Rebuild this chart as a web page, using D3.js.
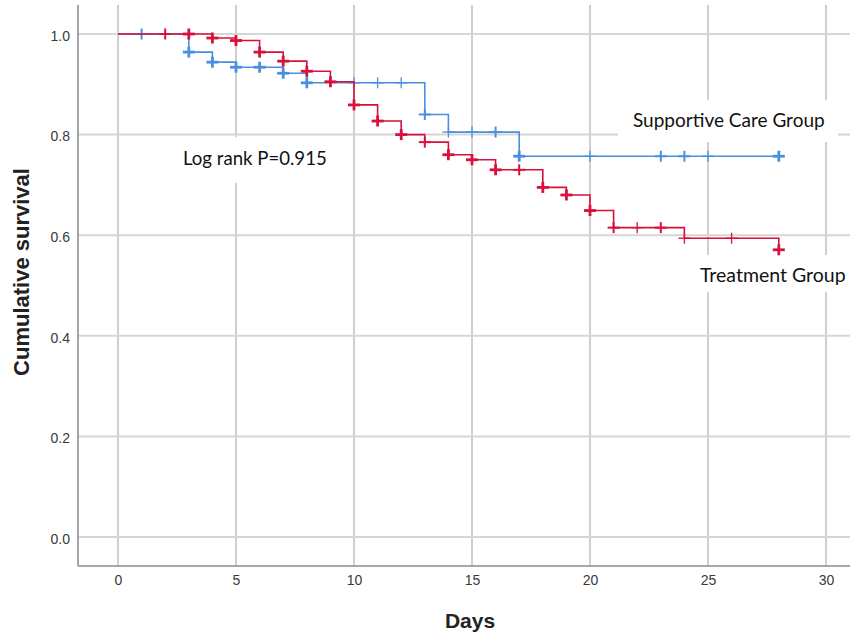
<!DOCTYPE html>
<html>
<head>
<meta charset="utf-8">
<script src="https://cdn.jsdelivr.net/npm/d3@7"></script>
<style>
  body { margin: 0; background: #fff; }
  svg { display: block; }
</style>
</head>
<body>
<div id="chart"></div>
<script>
// Kaplan-Meier steps (day of drop, survival after drop)
var careTimes = [0, 3, 4, 5, 7, 8, 13, 14, 17];
var careSurv = [1.0, 0.964, 0.944, 0.934, 0.922, 0.903, 0.840, 0.805, 0.757];
var careCensorDays = [1, 3, 4, 5, 6, 7, 8, 10, 11, 12, 13, 14, 15, 16, 17, 20, 23, 24, 25, 28];
var careCensorN = [2, 3, 3, 3, 3, 3, 3, 1, 1, 1, 2, 1, 1, 2, 3, 1, 2, 2, 1, 3];

var treatTimes = [0, 4, 5, 6, 7, 8, 9, 10, 11, 12, 13, 14, 15, 16, 18, 19, 20, 21, 24, 28];
var treatSurv = [1.0, 0.992, 0.987, 0.964, 0.946, 0.926, 0.905, 0.859, 0.827, 0.800, 0.785, 0.760,
  0.750, 0.730, 0.695, 0.680, 0.649, 0.615, 0.594, 0.571];
var treatCensorDays = [2, 3, 4, 5, 6, 7, 8, 9, 10, 11, 12, 13, 14, 15, 16, 17, 18, 19, 20, 21, 22, 23, 24, 26, 28];
var treatCensorN = [2, 3, 3, 3, 3, 3, 3, 3, 3, 3, 3, 2, 3, 3, 3, 2, 3, 3, 3, 2, 1, 2, 1, 1, 3];

var lastDay = 28;
var xTicks = [0, 5, 10, 15, 20, 25, 30];
var yTicks = [0.0, 0.2, 0.4, 0.6, 0.8, 1.0];

var svgWidth = 850;
var svgHeight = 632;

var svg = d3.select("#chart")
  .append("svg")
  .attr("width", svgWidth)
  .attr("height", svgHeight);

var xScale = d3.scaleLinear().domain([0, 30]).range([118, 826]);
var yScale = d3.scaleLinear().domain([0, 1]).range([537, 34]);

var plotLeft = 78, plotRight = 850, plotTop = 5, plotBottom = 566;

// grid lines
svg.append("g").selectAll("line")
  .data(xTicks)
  .enter()
  .append("line")
  .attr("x1", d => xScale(d)).attr("x2", d => xScale(d))
  .attr("y1", plotTop).attr("y2", plotBottom)
  .attr("stroke", "#cfcfcf")
  .attr("stroke-width", 2);

svg.append("g").selectAll("line")
  .data(yTicks)
  .enter()
  .append("line")
  .attr("x1", plotLeft).attr("x2", plotRight)
  .attr("y1", d => yScale(d)).attr("y2", d => yScale(d))
  .attr("stroke", "#d6d6d6")
  .attr("stroke-width", 2);

// white boxes behind the annotations
var boxes = [
  { x: 160, y: 137, w: 178, h: 46 },
  { x: 618, y: 100, w: 220, h: 42 },
  { x: 693, y: 255, w: 157, h: 37 }
];
svg.append("g").selectAll("rect")
  .data(boxes)
  .enter()
  .append("rect")
  .attr("x", d => d.x).attr("y", d => d.y)
  .attr("width", d => d.w).attr("height", d => d.h)
  .attr("fill", "#fff");

// axes
var xAxis = d3.axisBottom(xScale).tickValues(xTicks).tickSize(0).tickPadding(9)
  .tickFormat(d3.format("d"));
var yAxis = d3.axisLeft(yScale).tickValues(yTicks).tickSize(0).tickPadding(8)
  .tickFormat(d3.format(".1f"));

var gx = svg.append("g")
  .attr("transform", `translate(0, ${plotBottom})`)
  .call(xAxis);
var gy = svg.append("g")
  .attr("transform", `translate(${plotLeft}, 0)`)
  .call(yAxis);

[gx, gy].forEach(function(g) {
  g.select(".domain").remove();
  g.selectAll("text")
    .attr("font-family", "'Liberation Sans', Arial, sans-serif")
    .attr("font-size", "14px")
    .attr("fill", "#3a3a3a");
});
gy.selectAll("text").attr("dy", "0.45em");

svg.append("line")
  .attr("x1", plotLeft).attr("x2", plotLeft)
  .attr("y1", plotTop).attr("y2", plotBottom)
  .attr("stroke", "#8a8a8a").attr("stroke-width", 1.5);
svg.append("line")
  .attr("x1", plotLeft).attr("x2", plotRight)
  .attr("y1", plotBottom).attr("y2", plotBottom)
  .attr("stroke", "#8a8a8a").attr("stroke-width", 1.5);

// survival curves
function survAt(times, surv, t) {
  var v = surv[0];
  times.forEach(function(tt, i) { if (tt <= t) v = surv[i]; });
  return v;
}

var stepLine = d3.line()
  .x(d => xScale(d[0]))
  .y(d => yScale(d[1]))
  .curve(d3.curveStepAfter);

var groups = [
  { times: careTimes, surv: careSurv, cDays: careCensorDays, cN: careCensorN, color: "#4a8fe0" },
  { times: treatTimes, surv: treatSurv, cDays: treatCensorDays, cN: treatCensorN, color: "#d8103c" }
];

groups.forEach(function(g) {
  var pts = g.times.map((t, i) => [t, g.surv[i]]);
  pts.push([lastDay, g.surv[g.surv.length - 1]]);

  svg.append("path")
    .datum(pts)
    .attr("d", stepLine)
    .attr("fill", "none")
    .attr("stroke", g.color)
    .attr("stroke-width", 1.6);

  var marks = g.cDays.map((t, i) => ({ x: t, y: survAt(g.times, g.surv, t), n: g.cN[i] }));
  var mg = svg.append("g").selectAll("g")
    .data(marks)
    .enter()
    .append("g")
    .attr("transform", d => `translate(${xScale(d.x)}, ${yScale(d.y)})`)
    .attr("stroke", g.color)
    .attr("stroke-width", d => d.n >= 3 ? 2.8 : (d.n === 2 ? 2 : 1.3));
  mg.append("line").attr("x1", -6).attr("x2", 6).attr("y1", 0).attr("y2", 0);
  mg.append("line").attr("x1", 0).attr("x2", 0).attr("y1", -5.5).attr("y2", 5.5);
});

// annotations
var labelFont = "Lato, 'Open Sans', sans-serif";
svg.append("text")
  .attr("x", 183).attr("y", 165)
  .attr("font-family", labelFont).attr("font-size", "18.6px").attr("fill", "#111")
  .text("Log rank P=0.915");
svg.append("text")
  .attr("x", 633).attr("y", 127)
  .attr("font-family", labelFont).attr("font-size", "19px").attr("fill", "#111")
  .text("Supportive Care Group");
svg.append("text")
  .attr("x", 700).attr("y", 282)
  .attr("font-family", labelFont).attr("font-size", "19.5px").attr("fill", "#111")
  .text("Treatment Group");

// axis titles
svg.append("text")
  .attr("x", 470).attr("y", 628)
  .attr("text-anchor", "middle")
  .attr("font-family", "'Liberation Sans', Arial, sans-serif")
  .attr("font-size", "21px").attr("font-weight", "bold").attr("fill", "#222")
  .text("Days");
svg.append("text")
  .attr("transform", "translate(29, 272) rotate(-90)")
  .attr("text-anchor", "middle")
  .attr("font-family", "'Liberation Sans', Arial, sans-serif")
  .attr("font-size", "22px").attr("font-weight", "bold").attr("fill", "#222")
  .text("Cumulative survival");
</script>
</body>
</html>
